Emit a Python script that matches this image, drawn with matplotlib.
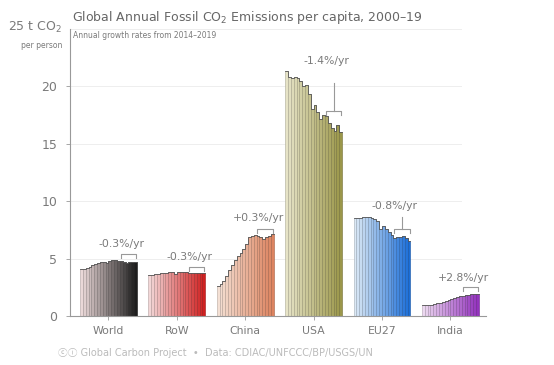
import numpy as np
import matplotlib.pyplot as plt
from matplotlib.colors import LinearSegmentedColormap

# Data: per-capita fossil CO2 emissions, t CO2 per person, 2000-2019
years = np.arange(2000, 2020)
regions = ['World', 'RoW', 'China', 'USA', 'EU27', 'India']

world = [4.10, 4.10, 4.15, 4.30, 4.45, 4.55, 4.62, 4.68, 4.70, 4.60,
         4.80, 4.85, 4.85, 4.82, 4.78, 4.70, 4.66, 4.67, 4.70, 4.68]
row = [3.60, 3.60, 3.62, 3.66, 3.72, 3.75, 3.78, 3.80, 3.82, 3.70,
       3.80, 3.82, 3.85, 3.82, 3.78, 3.76, 3.74, 3.74, 3.76, 3.72]
china = [2.65, 2.80, 3.05, 3.50, 4.00, 4.45, 4.90, 5.25, 5.50, 5.85,
         6.25, 6.85, 7.00, 7.05, 7.00, 6.85, 6.75, 6.85, 7.00, 7.10]
usa = [21.3, 20.8, 20.7, 20.8, 20.7, 20.5, 20.0, 20.1, 19.3, 18.0,
       18.4, 17.8, 17.2, 17.5, 17.4, 16.8, 16.4, 16.1, 16.6, 16.0]
eu27 = [8.50, 8.55, 8.55, 8.65, 8.65, 8.60, 8.55, 8.45, 8.25, 7.60,
        7.85, 7.55, 7.30, 7.05, 6.80, 6.90, 6.90, 6.95, 6.80, 6.50]
india = [0.95, 0.97, 0.98, 1.00, 1.05, 1.10, 1.15, 1.22, 1.32, 1.42,
         1.50, 1.57, 1.65, 1.70, 1.75, 1.80, 1.84, 1.88, 1.95, 1.95]
values = [world, row, china, usa, eu27, india]

growth_labels = ['-0.3%/yr', '-0.3%/yr', '+0.3%/yr', '-1.4%/yr', '-0.8%/yr', '+2.8%/yr']
bracket_y = [5.4, 4.3, 7.6, 17.9, 7.6, 2.5]
stem_top = [None, None, None, 20.3, 8.6, None]
label_y = [6.3, 5.1, 8.5, 22.2, 9.6, 3.3]

# gradient endpoints per region (light -> dark)
colors = [('#ead8d8', '#1e1e1e'), ('#f2d6d6', '#d02020'), ('#f4e0d4', '#dd8460'),
          ('#e6e3c6', '#9b974a'), ('#dbe8f5', '#1a6ed8'), ('#ecd8f0', '#9333bd')]

GREY = '#7a7a7a'

fig = plt.figure(figsize=(5.54, 3.65), dpi=100)
ax = fig.add_axes([70 / 554, 49 / 365, 416 / 554, 287 / 365])

n = len(years)
step = 24
offset = 3.5
centers = []
for g, (name, vals) in enumerate(zip(regions, values)):
    cmap = LinearSegmentedColormap.from_list(name, colors[g])
    x0 = offset + g * step
    xs = x0 + np.arange(n) + 0.5
    cols = [cmap(i / (n - 1)) for i in range(n)]
    edge = [tuple(c * 0.75 for c in cmap(i / (n - 1))[:3]) for i in range(n)]
    ax.bar(xs, vals, width=1.0, color=cols, edgecolor=edge, linewidth=0.4, zorder=2)
    # dark outline along bar tops
    ax.step(np.append(xs - 0.5, xs[-1] + 0.5), np.append(vals, vals[-1]),
            where='post', color='#555555', lw=0.6, zorder=3)
    centers.append(x0 + n / 2)

    # growth bracket over 2014-2019
    bx0 = x0 + 14 + 0.3
    bx1 = x0 + 20 - 0.3
    by = bracket_y[g]
    ax.plot([bx0, bx0, bx1, bx1], [by - 0.35, by, by, by - 0.35], color='#999999', lw=0.8, zorder=3)
    if stem_top[g] is not None:
        ax.plot([(bx0 + bx1) / 2] * 2, [by, stem_top[g]], color='#999999', lw=0.8, zorder=3)
    ax.text(x0 + 14.5, label_y[g], growth_labels[g], ha='center', va='center',
            fontsize=7.8, color=GREY)

ax.set_xlim(0, 146)
ax.set_ylim(0, 25)
ax.set_xticks(centers)
ax.set_xticklabels(regions, fontsize=7.8, color=GREY)
ax.set_yticks([0, 5, 10, 15, 20])
ax.set_yticklabels(['0', '5', '10', '15', '20'], fontsize=9, color=GREY)
ax.tick_params(axis='both', length=3, width=0.6, color='#999999')
ax.tick_params(axis='y', pad=6)
ax.tick_params(axis='x', pad=4)
for yv in [5, 10, 15, 20, 25]:
    ax.axhline(yv, xmin=0, xmax=0.94, color='#eeeeee', lw=0.7, zorder=0)
for s in ['top', 'right']:
    ax.spines[s].set_visible(False)
for s in ['left', 'bottom']:
    ax.spines[s].set_color('#999999')
    ax.spines[s].set_linewidth(0.8)

# y-axis unit label at the 25 level
fig.text(62 / 554, 1 - 27 / 365, '25 t CO$_2$', ha='right', va='center', fontsize=9, color=GREY)
fig.text(62 / 554, 1 - 45 / 365, 'per person', ha='right', va='center', fontsize=5.5, color=GREY)

fig.text(72 / 554, 1 - 17 / 365, 'Global Annual Fossil CO$_2$ Emissions per capita, 2000\u201319',
         ha='left', va='center', fontsize=9, color='#666666')
fig.text(73 / 554, 1 - 36 / 365, 'Annual growth rates from 2014\u20132019',
         ha='left', va='center', fontsize=5.5, color=GREY)

fig.text(58 / 554, 1 - 353 / 365,
         '\u24d2\u24d8 Global Carbon Project  \u2022  Data: CDIAC/UNFCCC/BP/USGS/UN',
         ha='left', va='center', fontsize=7, color='#bbbbbb',
         family=['DejaVu Sans', 'Noto Sans CJK SC'])

fig.savefig('out.png', dpi=100)
